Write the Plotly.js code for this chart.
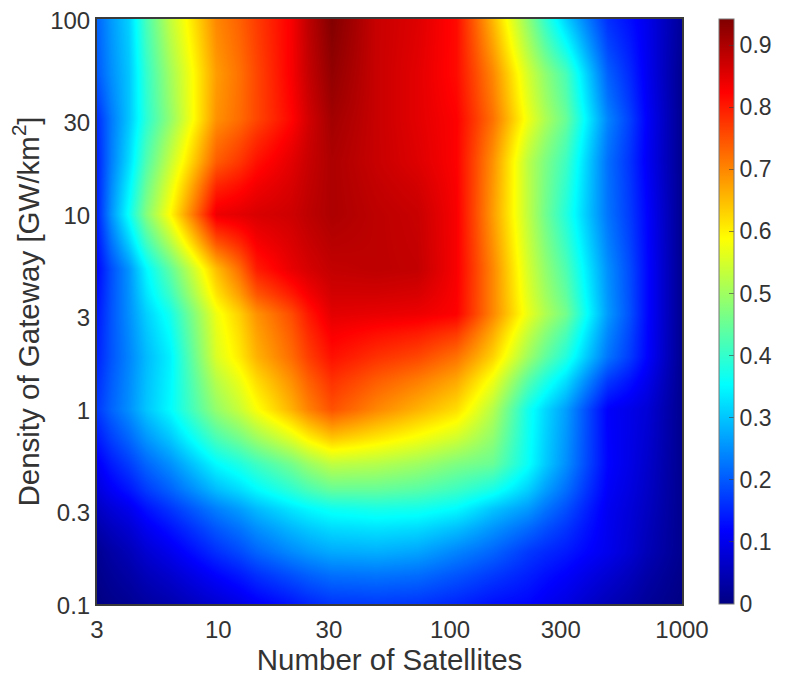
<!DOCTYPE html>
<html><head><meta charset="utf-8">
<script src="https://cdn.plot.ly/plotly-3.0.1.min.js"></script>
<style>html,body{margin:0;padding:0;background:#fff}</style></head>
<body><div id="chart" style="width:789px;height:679px"></div>
<script>
const satellites = [3,4,6,10,15,20,30,50,70,110,150,220,300,500,700,1000];
const density = [0.1,0.2,0.3,0.5,1,2,3,5,10,20,30,50,100];
const xTickVals = [3,10,30,100,300,1000];
const xTickText = ['3','10','30','100','300','1000'];
const yTickVals = [0.1,0.3,1,3,10,30,100];
const yTickText = ['0.1','0.3','1','3','10','30','100'];
const row0p1 = [0,.015,.04,.075,.11,.135,.165,.17,.165,.15,.13,.12,.09,.05,.02,0];
const row0p2 = [.015,.05,.10,.16,.21,.245,.275,.28,.27,.24,.21,.17,.14,.10,.05,.01];
const row0p3 = [.06,.10,.165,.235,.29,.33,.365,.375,.37,.35,.30,.26,.19,.105,.06,.01];
const row0p5 = [.11,.173,.25,.35,.41,.46,.53,.52,.50,.47,.45,.36,.25,.12,.07,.01];
const row1 = [.17,.25,.35,.49,.585,.66,.75,.70,.66,.62,.52,.37,.264,.115,.08,.01];
const row2 = [.15,.24,.34,.555,.66,.725,.81,.78,.76,.72,.63,.50,.385,.225,.12,.01];
const row3 = [.14,.25,.37,.575,.69,.755,.85,.845,.84,.825,.70,.57,.46,.26,.125,.01];
const row5 = [.125,.255,.44,.65,.80,.845,.88,.885,.88,.83,.70,.55,.425,.25,.125,.01];
const row10 = [.15,.36,.59,.84,.86,.87,.90,.885,.875,.83,.68,.53,.385,.225,.12,.01];
const row20 = [.15,.32,.534,.74,.81,.85,.90,.875,.855,.825,.69,.526,.41,.22,.11,.01];
const row30 = [.16,.30,.485,.69,.76,.82,.91,.875,.85,.825,.72,.575,.45,.24,.115,.01];
const row50 = [.2,.3,.50,.68,.76,.83,.925,.875,.85,.815,.70,.549,.42,.206,.105,.01];
const row100 = [.21,.31,.53,.70,.77,.83,.94,.875,.855,.815,.655,.485,.31,.16,.10,.02];
const zValues = [row0p1,row0p2,row0p3,row0p5,row1,row2,row3,row5,row10,row20,row30,row50,row100];
const jet = [[0,'rgb(0,0,131)'],[0.125,'rgb(0,0,255)'],[0.375,'rgb(0,255,255)'],[0.625,'rgb(255,255,0)'],[0.875,'rgb(255,0,0)'],[1,'rgb(128,0,0)']];
function edges(a){
  const e=[a[0]*Math.sqrt(a[0]/a[1])];
  for(let i=1;i<a.length;i++) e.push(Math.sqrt(a[i-1]*a[i]));
  e.push(a[a.length-1]*Math.sqrt(a[a.length-1]/a[a.length-2]));
  return e;
}
const W=789,H=679,L=97,R=683,T=19,B=604;
const FONT='"Liberation Sans", Arial, sans-serif', INK='#333333';
const trace={type:'heatmap',x:edges(satellites),y:edges(density),z:zValues,zmin:0,zmax:0.942,zsmooth:'best',colorscale:jet,
  colorbar:{x:(719-L)/(R-L),xanchor:'left',y:0,yanchor:'bottom',len:1,lenmode:'fraction',thickness:15,thicknessmode:'pixels',xpad:0,ypad:0,
    outlinecolor:'#777',outlinewidth:1,ticks:'inside',ticklen:5,tickcolor:'rgba(60,60,60,0.6)',tick0:0,dtick:0.1,
    tickfont:{family:FONT,size:23,color:INK}}};
const axisBase={type:'log',showgrid:false,zeroline:false,showline:true,mirror:true,linecolor:'#3a3a3a',linewidth:2,ticks:'',tickmode:'array',
  tickfont:{family:FONT,size:24,color:INK}};
const layout={width:W,height:H,margin:{l:L,r:W-R,t:T,b:H-B,pad:0},paper_bgcolor:'#fff',plot_bgcolor:'#fff',
  xaxis:Object.assign({},axisBase,{range:[Math.log10(3),3],tickvals:xTickVals,ticktext:xTickText,ticklabelstandoff:3,
    title:{text:'Number of Satellites',font:{family:FONT,size:29.5,color:INK},standoff:8}}),
  yaxis:Object.assign({},axisBase,{range:[-1,2],tickvals:yTickVals,ticktext:yTickText,ticklabelshift:2,
    title:{text:'Density of Gateway [GW/km<sup>2</sup>]',font:{family:FONT,size:29.5,color:INK},standoff:2}})};
Plotly.newPlot('chart',[trace],layout,{displayModeBar:false,staticPlot:true});
</script></body></html>
